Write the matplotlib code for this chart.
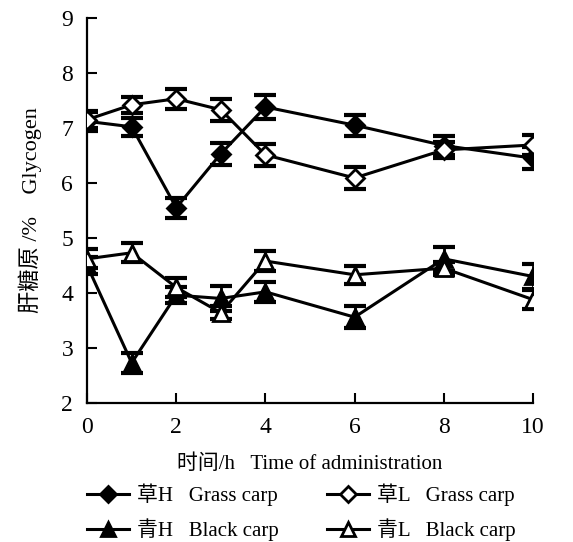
import matplotlib
matplotlib.use("Agg")
import matplotlib.pyplot as plt
from matplotlib.lines import Line2D

plt.rcParams['font.family'] = ['Liberation Serif', 'Noto Sans CJK SC']
plt.rcParams['font.size'] = 15

# Time points (h)
hours = [0, 1, 2, 3, 4, 6, 8, 10]

# Glycogen (%) mean and error
grass_h = [7.12, 7.02, 5.55, 6.53, 7.38, 7.05, 6.68, 6.45]
grass_h_err = [0.17, 0.16, 0.18, 0.20, 0.22, 0.19, 0.18, 0.20]
grass_l = [7.15, 7.42, 7.53, 7.33, 6.51, 6.09, 6.60, 6.69]
grass_l_err = [0.15, 0.15, 0.18, 0.20, 0.20, 0.20, 0.15, 0.18]
black_h = [4.50, 2.73, 3.96, 3.90, 4.02, 3.56, 4.62, 4.30]
black_h_err = [0.15, 0.18, 0.15, 0.22, 0.18, 0.20, 0.22, 0.22]
black_l = [4.62, 4.73, 4.10, 3.64, 4.58, 4.33, 4.45, 3.88]
black_l_err = [0.17, 0.17, 0.17, 0.12, 0.18, 0.16, 0.12, 0.18]

labels = ['草H   Grass carp', '草L   Grass carp',
          '青H   Black carp', '青L   Black carp']
markers = ['D', 'D', '^', '^']
fills = ['black', 'white', 'black', 'white']

fig = plt.figure(figsize=(5.73, 5.42), dpi=100)
ax = fig.add_axes([0.152, 0.2565, 0.778, 0.7105])

series = [(grass_h, grass_h_err), (grass_l, grass_l_err),
          (black_h, black_h_err), (black_l, black_l_err)]
handles = []
for (vals, errs), mk, fc, lab in zip(series, markers, fills, labels):
    ax.errorbar(hours, vals, yerr=errs, fmt='none', ecolor='black',
                elinewidth=2, capsize=8, capthick=3, zorder=2)
    ms = 9 if mk == 'D' else 11
    ax.plot(hours, vals, color='black', lw=2.2, marker=mk, ms=ms,
            mfc=fc, mec='black', mew=2, zorder=3)
    handles.append(Line2D([], [], color='black', lw=2.2, marker=mk, ms=ms - 1,
                          mfc=fc, mec='black', mew=2, label=lab))

ax.set_xlim(0, 10)
ax.set_ylim(2, 9)
ax.set_xticks([0, 2, 4, 6, 8, 10])
ax.set_yticks(range(2, 10))
ax.spines['top'].set_visible(False)
ax.spines['right'].set_visible(False)
ax.spines['left'].set_linewidth(1.6)
ax.spines['bottom'].set_linewidth(1.6)
ax.tick_params(direction='in', length=7, width=1.5, pad=10, labelsize=17)

ax.set_xlabel('时间/h   Time of administration', labelpad=12)
ax.set_ylabel('肝糖原 /%    Glycogen', labelpad=14, fontsize=16)

# column-wise fill: row 1 = grass carp, row 2 = black carp
order = [0, 2, 1, 3]
fig.legend(handles=[handles[i] for i in order], ncol=2, frameon=False,
           loc='center', bbox_to_anchor=(0.526, 0.055), handlelength=2.0,
           handletextpad=0.4, columnspacing=2.3, labelspacing=0.6)

fig.savefig('out.png', dpi=100)
